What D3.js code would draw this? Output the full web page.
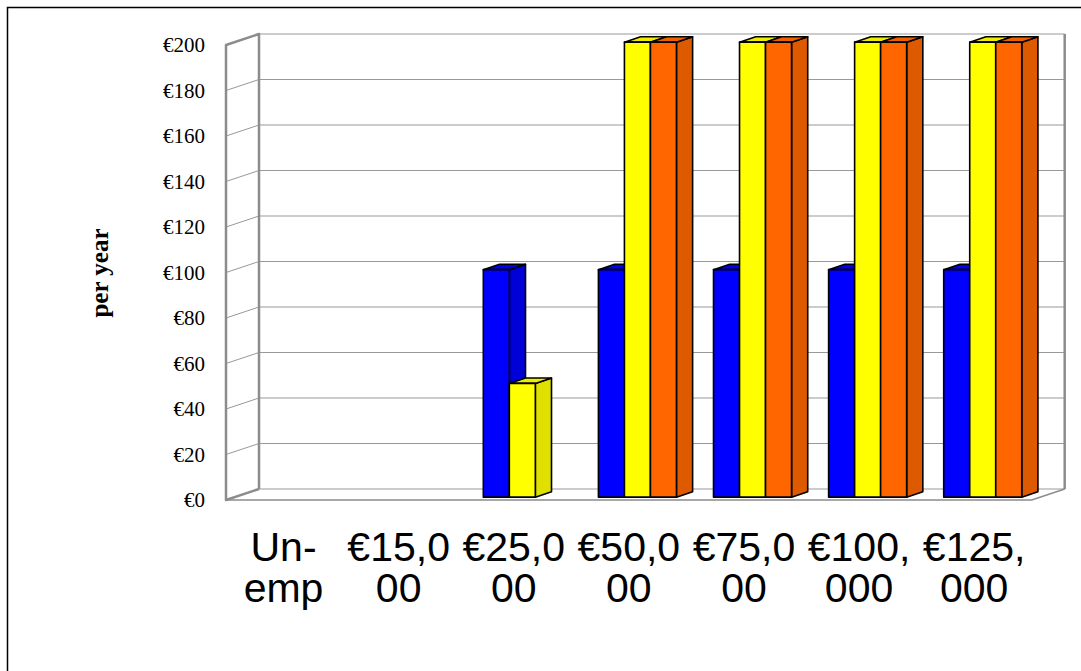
<!DOCTYPE html>
<html>
<head>
<meta charset="utf-8">
<script src="https://cdn.jsdelivr.net/npm/d3@7"></script>
<style>
  html, body { margin: 0; padding: 0; background: #fff; }
  svg { display: block; }
</style>
</head>
<body>
<svg id="chart"></svg>
<script>
const categories = [['Un-', 'emp'], ['€15,0', '00'], ['€25,0', '00'], ['€50,0', '00'], ['€75,0', '00'], ['€100,', '000'], ['€125,', '000']];
const seriesNames = ['blue', 'yellow', 'orange'];
const seriesBlue = [0, 0, 100, 100, 100, 100, 100];
const seriesYellow = [0, 0, 50, 200, 200, 200, 200];
const seriesOrange = [0, 0, 0, 200, 200, 200, 200];
const yTicks = [0, 20, 40, 60, 80, 100, 120, 140, 160, 180, 200];

const colors = {
  blue: { front: '#0000ff', top: '#0000ee', side: '#0000d8' },
  yellow: { front: '#ffff00', top: '#eeee00', side: '#e0e000' },
  orange: { front: '#ff6600', top: '#ee6000', side: '#dd5a00' },
};

const width = 1081;
const height = 671;
const svg = d3.select('#chart').attr('width', width).attr('height', height);

// front plane of the plot box
const left = 226;
const plotW = 805.7;
const bottom = 500;
const plotH = 455;
const depthX = 33;
const depthY = 11;

const keys = categories.map((c, i) => i);
const xScale = d3.scaleBand().domain(keys).range([left, left + plotW])
  .paddingInner(0.322).paddingOuter(0.161);
const xSeries = d3.scaleBand().domain(seriesNames).range([0, xScale.bandwidth()]);
const yScale = d3.scaleLinear().domain([0, 200]).range([0, plotH]);

// project (x on front plane, value, depth 0..1) to screen
const px = (x, d) => x + d * depthX;
const py = (v, d) => bottom - yScale(v) - d * depthY;
const pt = (x, v, d) => `${px(x, d)},${py(v, d)}`;

// outer frame
svg.append('path')
  .attr('d', `M7.5,${height}V7.5H${width}`)
  .attr('fill', 'none')
  .attr('stroke', '#000')
  .attr('stroke-width', 1.5);

const right = left + plotW;

// walls
svg.append('polygon')
  .attr('points', [pt(left, 0, 0), pt(left, 200, 0), pt(left, 200, 1), pt(left, 0, 1)].join(' '))
  .attr('fill', '#fff');
svg.append('polygon')
  .attr('points', [pt(left, 0, 1), pt(left, 200, 1), pt(right, 200, 1), pt(right, 0, 1)].join(' '))
  .attr('fill', '#fff');

// gridlines on back wall and side wall
const grid = svg.append('g').attr('fill', 'none').attr('stroke', '#999999').attr('stroke-width', 1);
yTicks.forEach((v) => {
  grid.append('path')
    .attr('d', `M${pt(left, v, 0)}L${pt(left, v, 1)}L${pt(right, v, 1)}`);
});

// wall edges
const edges = svg.append('g').attr('fill', 'none').attr('stroke', '#8c8c8c').attr('stroke-width', 2.5)
  .attr('stroke-linejoin', 'round');
edges.append('path')
  .attr('d', `M${pt(left, 0, 1)}L${pt(left, 0, 0)}L${pt(left, 200, 0)}L${pt(left, 200, 1)}L${pt(left, 0, 1)}`);
edges.append('path')
  .attr('d', `M${pt(right, 200, 1)}L${pt(right, 0, 1)}`);
svg.append('path')
  .attr('d', `M${pt(left, 0, 0)}L${pt(right, 0, 0)}L${pt(right, 0, 1)}`)
  .attr('fill', 'none').attr('stroke', '#8c8c8c').attr('stroke-width', 1.5);

// y axis labels
const yFront = d3.scaleLinear().domain([0, 200]).range([bottom, bottom - plotH]);
const axis = svg.append('g')
  .attr('transform', `translate(${205},0)`)
  .call(d3.axisLeft(yFront).tickValues(yTicks).tickSize(0).tickPadding(0).tickFormat(d => `€${d}`));
axis.select('.domain').remove();
axis.selectAll('text')
  .attr('font-family', '"Liberation Serif", "DejaVu Serif", serif')
  .attr('font-size', 21)
  .attr('fill', '#000');

svg.append('text')
  .attr('transform', `translate(${108},${273}) rotate(-90)`)
  .attr('text-anchor', 'middle')
  .attr('font-family', '"Liberation Serif", "DejaVu Serif", serif')
  .attr('font-weight', 'bold')
  .attr('font-size', 25)
  .text('per year');

// bars
const series = [
  { name: 'blue', values: seriesBlue },
  { name: 'yellow', values: seriesYellow },
  { name: 'orange', values: seriesOrange },
];
const d0 = 0.26;
const d1 = 0.75;
const bars = svg.append('g').attr('stroke', '#000').attr('stroke-width', 1.6).attr('stroke-linejoin', 'round');
keys.forEach((k) => {
  series.forEach((s) => {
    const v = s.values[k];
    if (!v) return;
    const x0 = xScale(k) + xSeries(s.name);
    const x1 = x0 + xSeries.bandwidth();
    const c = colors[s.name];
    bars.append('polygon')
      .attr('points', [pt(x1, 0, d0), pt(x1, v, d0), pt(x1, v, d1), pt(x1, 0, d1)].join(' '))
      .attr('fill', c.side);
    bars.append('polygon')
      .attr('points', [pt(x0, v, d0), pt(x0, v, d1), pt(x1, v, d1), pt(x1, v, d0)].join(' '))
      .attr('fill', c.top);
    bars.append('polygon')
      .attr('points', [pt(x0, 0, d0), pt(x0, v, d0), pt(x1, v, d0), pt(x1, 0, d0)].join(' '))
      .attr('fill', c.front);
  });
});

// category labels
const labels = svg.append('g')
  .attr('font-family', '"Liberation Sans", Arial, sans-serif')
  .attr('font-size', 41)
  .attr('text-anchor', 'middle')
  .attr('fill', '#000');
keys.forEach((k) => {
  const cx = xScale(k) + xScale.bandwidth() / 2;
  const t = labels.append('text').attr('x', cx).attr('y', 561);
  t.append('tspan').attr('x', cx).text(categories[k][0]);
  t.append('tspan').attr('x', cx).attr('dy', 41).text(categories[k][1]);
});
</script>
</body>
</html>
